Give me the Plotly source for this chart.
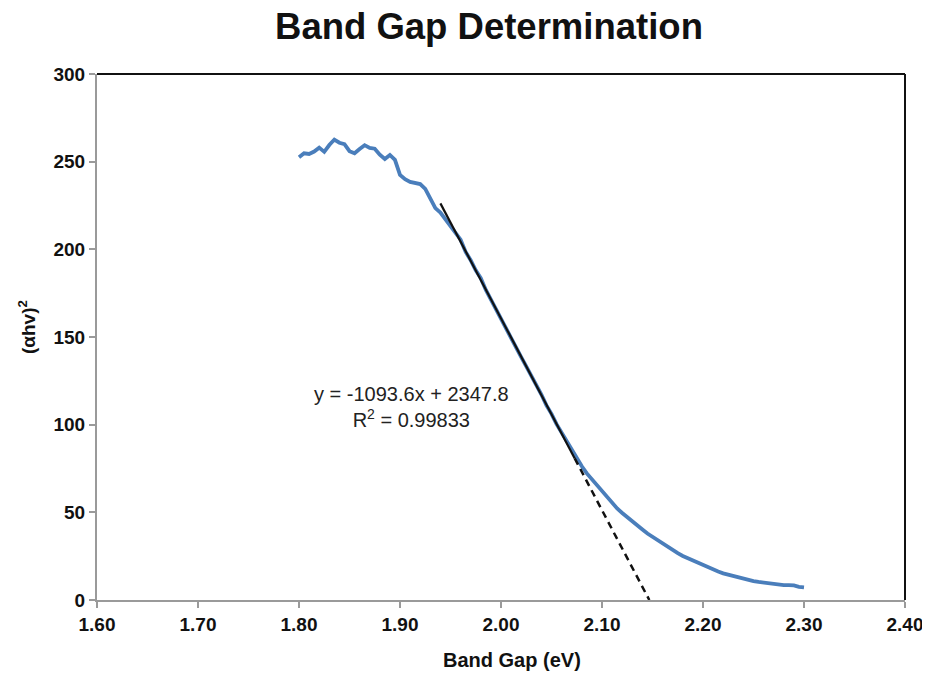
import plotly.graph_objects as go

# ---- data ----
band_gap = [
    1.800, 1.805, 1.810, 1.815, 1.820, 1.825, 1.830, 1.835, 1.840, 1.845,
    1.850, 1.855, 1.860, 1.865, 1.870, 1.875, 1.880, 1.885, 1.890, 1.895,
    1.900, 1.905, 1.910, 1.915, 1.920, 1.925, 1.930, 1.935, 1.940, 1.945,
    1.950, 1.955, 1.960, 1.965, 1.970, 1.975, 1.980, 1.985, 1.990, 1.995,
    2.000, 2.005, 2.010, 2.015, 2.020, 2.025, 2.030, 2.035, 2.040, 2.045,
    2.050, 2.055, 2.060, 2.065, 2.070, 2.075, 2.080, 2.085, 2.090, 2.095,
    2.100, 2.105, 2.110, 2.115, 2.120, 2.125, 2.130, 2.135, 2.140, 2.145,
    2.150, 2.155, 2.160, 2.165, 2.170, 2.175, 2.180, 2.185, 2.190, 2.195,
    2.200, 2.205, 2.210, 2.215, 2.220, 2.225, 2.230, 2.235, 2.240, 2.245,
    2.250, 2.255, 2.260, 2.265, 2.270, 2.275, 2.280, 2.285, 2.290, 2.295,
    2.300,
]
ahv_sq = [
    252.5, 254.8, 254.4, 255.8, 258.0, 255.6, 259.5, 262.6, 260.8, 260.0,
    256.0, 254.8, 257.2, 259.4, 257.8, 257.4, 254.0, 251.5, 253.8, 251.0,
    242.5, 240.0, 238.5, 237.8, 237.2, 234.5, 228.5, 223.5, 221.0, 217.0,
    213.5, 209.5, 205.5, 198.5, 193.8, 188.0, 183.5, 176.8, 171.2, 166.5,
    160.2, 154.8, 149.9, 143.8, 138.5, 133.2, 128.1, 122.0, 117.2, 111.0,
    106.2, 100.3, 95.4, 90.5, 85.4, 80.6, 76.3, 72.2, 68.8, 65.2,
    61.9, 58.3, 55.0, 52.2, 49.6, 47.1, 44.6, 42.2, 40.2, 37.9,
    36.0, 34.1, 32.0, 30.2, 28.4, 26.7, 25.1, 23.8, 22.3, 20.9,
    19.6, 18.4, 17.2, 16.2, 15.2, 14.4, 13.5, 12.8, 12.1, 11.5,
    10.8, 10.3, 9.9, 9.5, 9.0, 8.6, 8.5, 8.5, 8.3, 7.5,
    7.2,
]
fit_slope = -1093.6
fit_intercept = 2347.8
fit_r2 = 0.99833
fit_range = [1.94, 2.073]          # solid trendline span
x_ticks = [1.60, 1.70, 1.80, 1.90, 2.00, 2.10, 2.20, 2.30, 2.40]
x_tick_labels = ["1.60", "1.70", "1.80", "1.90", "2.00", "2.10", "2.20", "2.30", "2.40"]
y_ticks = [0, 50, 100, 150, 200, 250, 300]

# derived trendline points
fit_y = [fit_slope * x + fit_intercept for x in fit_range]
x_zero = -fit_intercept / fit_slope
dash_x = [fit_range[1], x_zero]
dash_y = [fit_slope * x + fit_intercept for x in dash_x]

FONT = "Liberation Sans, Arial, Helvetica, sans-serif"
GRAY = "#9a9a9a"

fig = go.Figure()
fig.add_trace(go.Scatter(x=band_gap, y=ahv_sq, mode="lines",
                         line=dict(color="#4A7EBB", width=3.8), showlegend=False))
fig.add_trace(go.Scatter(x=fit_range, y=fit_y, mode="lines",
                         line=dict(color="#111111", width=2.2), showlegend=False))
fig.add_trace(go.Scatter(x=dash_x, y=dash_y, mode="lines",
                         line=dict(color="#111111", width=2.5, dash="7px,5px"), showlegend=False))

fig.add_annotation(x=1.911, y=110.0, xref="x", yref="y",
                   text=f"y = {fit_slope}x + {fit_intercept}<br>R<sup>2</sup> = {fit_r2}",
                   showarrow=False, align="center",
                   font=dict(family=FONT, size=20, color="#222222"))

# axis titles
fig.add_annotation(x=0.5136, y=-0.114, xref="paper", yref="paper",
                   text="<b>Band Gap (eV)</b>", showarrow=False,
                   xanchor="center", yanchor="middle",
                   font=dict(family=FONT, size=20, color="#111111"))
fig.add_annotation(x=-0.0866, y=0.519, xref="paper", yref="paper",
                   text="<b>(αhv)<sup>2</sup></b>", showarrow=False, textangle=-90,
                   xanchor="center", yanchor="middle",
                   font=dict(family=FONT, size=19, color="#111111"))

# top and right frame lines (black)
fig.add_shape(type="line", xref="paper", yref="paper", x0=0, x1=1, y0=1, y1=1,
              line=dict(color="#111111", width=2))
fig.add_shape(type="line", xref="paper", yref="paper", x0=1, x1=1, y0=0, y1=1,
              line=dict(color="#111111", width=2))

# page body has an 8px margin, so the figure is sized to fit the window
fig.update_layout(
    width=922, height=665,
    margin=dict(l=89, r=25, t=66, b=73, autoexpand=False),
    paper_bgcolor="white", plot_bgcolor="white",
    title=dict(text="<b>Band Gap Determination</b>", x=0.5217, xanchor="center",
               y=0.972, yanchor="middle", xref="container", yref="container",
               font=dict(family=FONT, size=36.5, color="#111111")),
    xaxis=dict(range=[1.60, 2.40], tickvals=x_ticks, ticktext=x_tick_labels,
               automargin=False,
               showgrid=False, zeroline=False, showline=True, linecolor=GRAY, linewidth=2,
               ticks="outside", ticklen=6, tickcolor=GRAY, tickwidth=2,
               tickfont=dict(family=FONT, size=19, color="#111111", weight="bold")),
    yaxis=dict(range=[0, 300], tickvals=y_ticks, automargin=False,
               showgrid=False, zeroline=False, showline=True, linecolor=GRAY, linewidth=2,
               ticks="outside", ticklen=6, tickcolor=GRAY, tickwidth=2,
               tickfont=dict(family=FONT, size=19, color="#111111", weight="bold")),
)

fig.write_html("out.html")
